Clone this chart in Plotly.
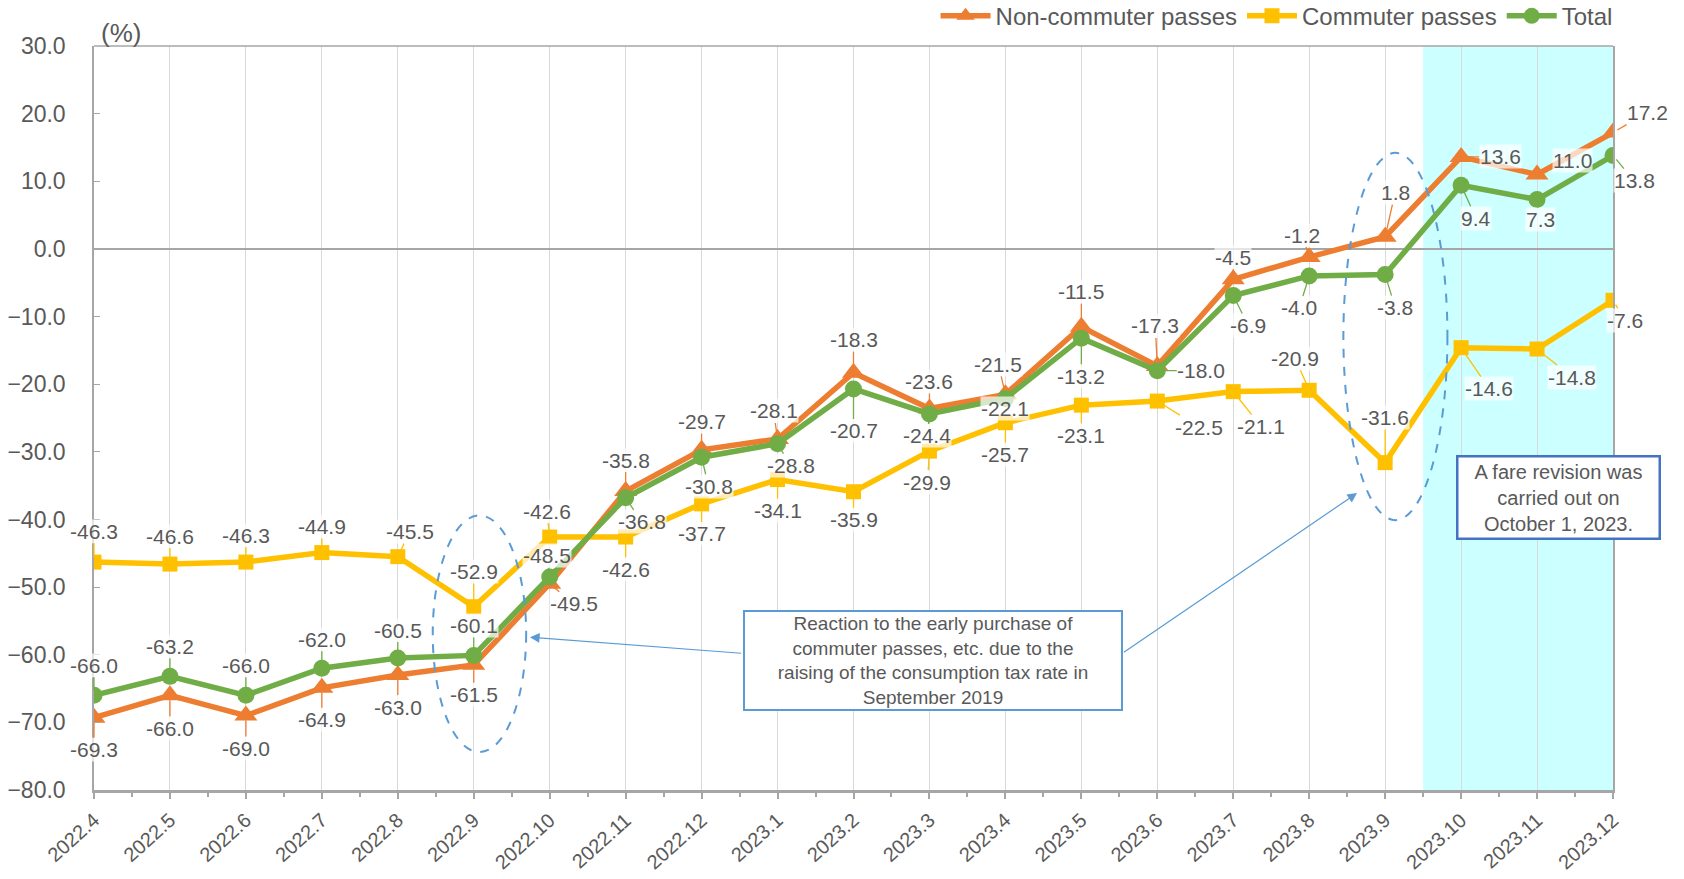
import plotly.graph_objects as go

# Year-on-year change of passenger revenue (%)
months = ['2022.4', '2022.5', '2022.6', '2022.7', '2022.8', '2022.9', '2022.10',
          '2022.11', '2022.12', '2023.1', '2023.2', '2023.3', '2023.4', '2023.5',
          '2023.6', '2023.7', '2023.8', '2023.9', '2023.10', '2023.11', '2023.12']
non_commuter = [-69.3, -66.0, -69.0, -64.9, -63.0, -61.5, -49.5, -35.8, -29.7, -28.1,
                -18.3, -23.6, -21.5, -11.5, -17.3, -4.5, -1.2, 1.8, 13.6, 11.0, 17.2]
commuter = [-46.3, -46.6, -46.3, -44.9, -45.5, -52.9, -42.6, -42.6, -37.7, -34.1,
            -35.9, -29.9, -25.7, -23.1, -22.5, -21.1, -20.9, -31.6, -14.6, -14.8, -7.6]
total = [-66.0, -63.2, -66.0, -62.0, -60.5, -60.1, -48.5, -36.8, -30.8, -28.8,
         -20.7, -24.4, -22.1, -13.2, -18.0, -6.9, -4.0, -3.8, 9.4, 7.3, 13.8]

# label offsets (pixels) from each point, like the moved Excel data labels
off_non = [(0, 32), (0, 33), (0, 33), (0, 32), (0, 32), (0, 30), (24, 20), (0, -31),
           (0, -28), (-4, -28), (0, -33), (0, -27), (-7, -30), (0, -35), (-2, -40),
           (0, -22), (-7, -22), (10, -44), (39, 0), (35, -14), (34, -20)]
off_com = [(0, -31), (0, -28), (0, -27), (0, -26), (12, -25), (0, -35), (-3, -26),
           (0, 32), (0, 30), (0, 31), (0, 28), (-2, 31), (0, 32), (0, 30), (42, 26),
           (28, 35), (-14, -32), (0, -45), (28, 41), (35, 28), (12, 20)]
off_tot = [(0, -30), (0, -30), (0, -30), (0, -29), (0, -28), (0, -30), (-3, -21),
           (16, 24), (7, 29), (13, 22), (0, 42), (-2, 22), (0, 10), (0, 38), (44, 0),
           (15, 30), (-10, 32), (10, 33), (15, 33), (3, 20), (21, 25)]

FONT = 'Liberation Sans, Arial, sans-serif'
GREY = '#595959'
x = list(range(len(months)))

series = [
    ('Non-commuter passes', non_commuter, '#ED7D31', 'triangle-up', 20, off_non),
    ('Commuter passes', commuter, '#FFC000', 'square', 15, off_com),
    ('Total', total, '#70AD47', 'circle', 17, off_tot),
]

fig = go.Figure()
for name, vals, col, sym, msize, offs in series:
    fig.add_trace(go.Scatter(x=x, y=vals, mode='lines+markers', name=name,
                             line=dict(color=col, width=5.5),
                             marker=dict(symbol=sym, size=msize, color=col)))

for name, vals, col, sym, msize, offs in series:
    for i, v in enumerate(vals):
        dx, dy = offs[i]
        fig.add_annotation(x=i, y=v, text=f'{v:.1f}', showarrow=True, arrowhead=0,
                           arrowwidth=1.3, arrowcolor=col, standoff=5, ax=dx, ay=dy,
                           font=dict(family=FONT, size=21, color=GREY),
                           bgcolor='rgba(255,255,255,0.7)', borderpad=0)

# highlighted period after the fare revision
fig.add_shape(type='rect', xref='x', yref='paper', x0=17.5, x1=20, y0=0, y1=1,
              fillcolor='#CCFFFF', line_width=0, layer='below')
# dashed ellipses
for x0, x1, y0, y1 in [(4.46, 5.69, -39.4, -74.4), (16.45, 17.82, 14.2, -40.1)]:
    fig.add_shape(type='circle', xref='x', yref='y', x0=x0, x1=x1, y0=y0, y1=y1,
                  line=dict(color='#5B9BD5', width=2, dash='dash'))
# top border
fig.add_shape(type='line', xref='paper', yref='paper', x0=0, x1=1, y0=1, y1=1,
              line=dict(color='#A6A6A6', width=1.5))

fig.add_annotation(x=11.05, y=-60.8, xref='x', yref='y', showarrow=False,
                   text='Reaction to the early purchase of<br>commuter passes, etc. due to the<br>'
                        'raising of the consumption tax rate in<br>September 2019',
                   font=dict(family=FONT, size=19, color=GREY), align='center',
                   bgcolor='white', bordercolor='#5B9BD5', borderwidth=2, borderpad=1,
                   width=374)
fig.add_annotation(x=19.28, y=-36.7, xref='x', yref='y', showarrow=False,
                   text='A fare revision was<br>carried out on<br>October 1, 2023.',
                   font=dict(family=FONT, size=20, color=GREY), align='center',
                   bgcolor='white', bordercolor='#4472C4', borderwidth=2.5, borderpad=3,
                   width=194)
# pointer arrows from the left box
for tx, ty, hx, hy in [(8.54, -59.8, 5.74, -57.4), (13.54, -59.8, 16.63, -36.1)]:
    fig.add_annotation(x=hx, y=hy, ax=tx, ay=ty, xref='x', yref='y', axref='x', ayref='y',
                       text='', showarrow=True, arrowhead=2, arrowsize=1.6,
                       arrowwidth=1.2, arrowcolor='#5B9BD5')

fig.add_annotation(x=0.0175, y=1.0175, xref='paper', yref='paper', text='(%)',
                   showarrow=False, xanchor='center', yanchor='middle',
                   font=dict(family=FONT, size=26, color=GREY))

fig.update_layout(
    width=1684, height=879,
    margin=dict(l=94, r=71, t=46, b=89, autoexpand=False),
    paper_bgcolor='white', plot_bgcolor='white',
    font=dict(family=FONT, color=GREY),
    legend=dict(orientation='h', x=1.003, xanchor='right', y=1.04, yanchor='middle',
                font=dict(size=24, color=GREY), bgcolor='rgba(0,0,0,0)',
                itemwidth=50, tracegroupgap=0),
    xaxis=dict(range=[0, 20], tickmode='array', tickvals=x, ticktext=months,
               tickangle=-42, tickfont=dict(size=20, color=GREY), ticklabelstandoff=2,
               showgrid=True, gridcolor='#D9D9D9', gridwidth=1,
               showline=True, linecolor='#A6A6A6', linewidth=2.5,
               ticks='outside', ticklen=6, tickcolor='#A6A6A6', tickwidth=1.5,
               minor=dict(ticks='outside', ticklen=4, tickcolor='#A6A6A6',
                          tick0=0.5, dtick=1, showgrid=False),
               zeroline=False, automargin=False),
    yaxis=dict(range=[-80, 30], dtick=10, tickformat='.1f',
               tickfont=dict(size=23, color=GREY), ticklabelstandoff=22,
               showgrid=False, showline=True, linecolor='#A6A6A6', linewidth=1.5,
               mirror=True, ticks='inside', ticklen=6, tickcolor='#A6A6A6',
               zeroline=True, zerolinecolor='#A6A6A6', zerolinewidth=2,
               automargin=False),
)

# drop the default page margin so the figure sits at the window's corner
fig.write_html('out.html', config={'displayModeBar': False},
               post_script="document.body.style.margin='0';")
